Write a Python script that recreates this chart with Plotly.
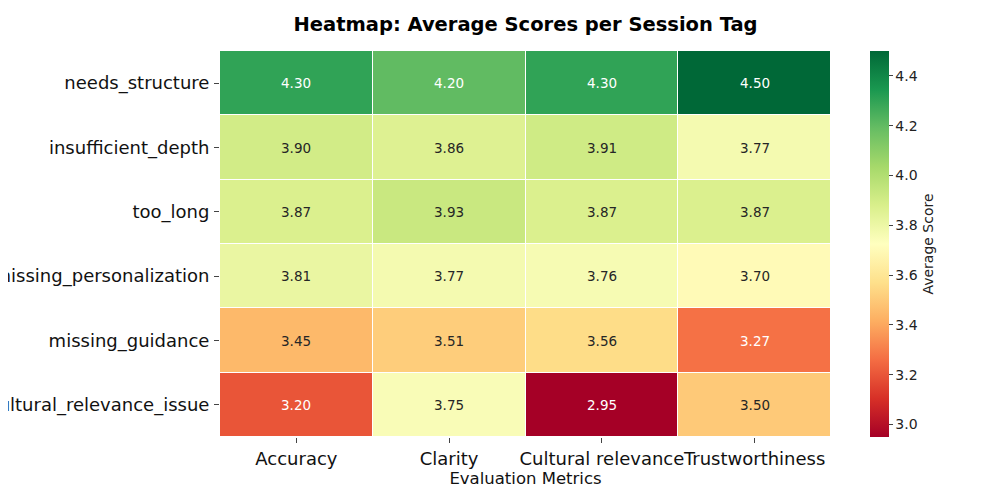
import plotly.graph_objects as go

metrics = ["Accuracy", "Clarity", "Cultural relevance", "Trustworthiness"]
tags = ["needs_structure", "insufficient_depth", "too_long",
        "missing_personalization", "missing_guidance", "cultural_relevance_issue"]
scores = [
    [4.30, 4.20, 4.30, 4.50],
    [3.90, 3.86, 3.91, 3.77],
    [3.87, 3.93, 3.87, 3.87],
    [3.81, 3.77, 3.76, 3.70],
    [3.45, 3.51, 3.56, 3.27],
    [3.20, 3.75, 2.95, 3.50],
]
zmin, zmax = 2.95, 4.50
FONT = "DejaVu Sans"

fig = go.Figure(go.Heatmap(
    z=scores, x=metrics, y=tags, colorscale="RdYlGn", zmin=zmin, zmax=zmax,
    xgap=1, ygap=1, hoverinfo="skip",
    colorbar=dict(title=dict(text="Average Score", side="right", font=dict(size=14, family=FONT)),
                  xref="container", x=0.862, xanchor="left", xpad=0, thickness=19, len=1, ypad=0,
                  outlinewidth=0, ticks="outside", ticklen=4,
                  tickvals=[3.0, 3.2, 3.4, 3.6, 3.8, 4.0, 4.2, 4.4],
                  ticktext=["3.0", "3.2", "3.4", "3.6", "3.8", "4.0", "4.2", "4.4"],
                  tickfont=dict(size=14, family=FONT, color="#222"))))

# cell labels: light text on the dark ends of the colour scale
ann = []
for i, tag in enumerate(tags):
    for j, m in enumerate(metrics):
        v = scores[i][j]
        col = "white" if (v >= 4.15 or v <= 3.30) else "#262626"
        ann.append(dict(x=m, y=tag, text=f"{v:.2f}", showarrow=False,
                        font=dict(size=13.5, family=FONT, color=col)))

fig.update_layout(
    width=1000, height=500, paper_bgcolor="white", plot_bgcolor="white",
    margin=dict(l=212, r=177, t=43, b=71),
    font=dict(family=FONT, color="#222"),
    title=dict(text="<b>Heatmap: Average Scores per Session Tag</b>", x=0.5, xref="paper",
               y=0.968, yref="container", yanchor="middle",
               font=dict(size=19.5, family=FONT, color="black")),
    annotations=ann,
)
fig.update_xaxes(title=dict(text="Evaluation Metrics", font=dict(size=16.5, family=FONT, color="#111"), standoff=4),
                 tickfont=dict(size=18, family=FONT, color="#111"), ticks="outside", ticklen=5,
                 tickangle=0, automargin=False, showgrid=False, zeroline=False)
fig.update_yaxes(autorange="reversed", tickfont=dict(size=18, family=FONT, color="#111"),
                 ticks="outside", ticklen=5, ticklabelstandoff=1,
                 showgrid=False, zeroline=False, automargin=False)

fig.write_html("out.html")
